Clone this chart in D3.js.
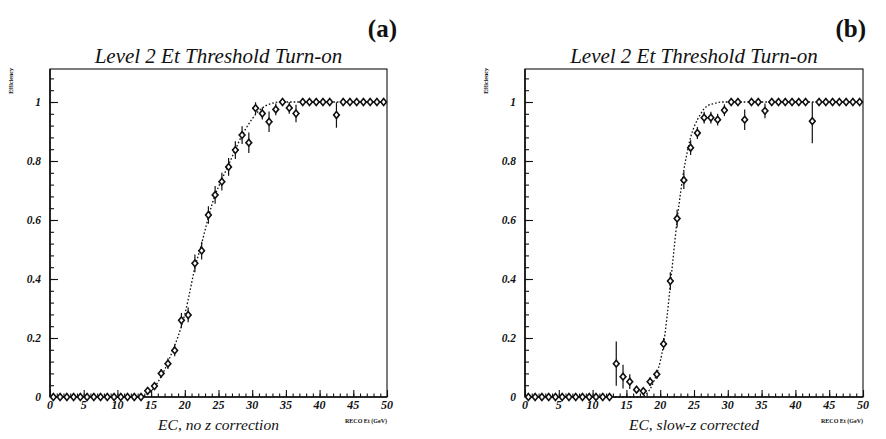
<!DOCTYPE html>
<html>
<head>
<meta charset="utf-8">
<script src="https://cdn.jsdelivr.net/npm/d3@7"></script>
<style>
  html, body { margin: 0; padding: 0; background: #fff; }
  svg { display: block; }
  text { fill: #111; }
</style>
</head>
<body>
<svg id="chart" width="886" height="439"></svg>
<script>
// ---------- data ----------
const binCenters = [0.5,1.5,2.5,3.5,4.5,5.5,6.5,7.5,8.5,9.5,10.5,11.5,12.5,13.5,14.5,15.5,16.5,17.5,18.5,19.5,
  20.5,21.5,22.5,23.5,24.5,25.5,26.5,27.5,28.5,29.5,30.5,31.5,32.5,33.5,34.5,35.5,36.5,37.5,38.5,39.5,
  40.5,41.5,42.5,43.5,44.5,45.5,46.5,47.5,48.5,49.5];

const effA = [0,0,0,0,0,0,0,0,0,0,0,0,0,0,0.021,0.037,0.08,0.113,0.158,0.26,
  0.278,0.453,0.496,0.617,0.685,0.73,0.78,0.837,0.888,0.862,0.979,0.961,0.933,0.975,1.0,0.98,0.961,1,1,1,
  1,1,0.956,1,1,1,1,1,1,1];
const errA = [0,0,0,0,0,0,0,0,0,0,0,0,0,0,0.01,0.012,0.015,0.018,0.02,0.025,
  0.025,0.03,0.03,0.03,0.03,0.03,0.03,0.03,0.03,0.035,0.02,0.02,0.035,0.02,0.01,0.02,0.03,0,0,0,
  0,0,0.043,0,0,0,0,0,0,0];

const effB = [0,0,0,0,0,0,0,0,0,0,0,0,0,0.113,0.069,0.052,0.025,0.02,0.052,0.077,
  0.18,0.393,0.605,0.735,0.845,0.895,0.947,0.947,0.94,0.972,1,1,0.94,1,1,0.97,1,1,1,1,
  1,1,0.935,1,1,1,1,1,1,1];
const errB = [0,0,0,0,0,0,0,0,0,0,0,0,0,0.075,0.04,0.025,0.012,0.01,0.015,0.015,
  0.02,0.03,0.03,0.03,0.025,0.02,0.02,0.02,0.02,0.02,0,0,0.035,0,0,0.025,0,0,0,0,
  0,0,0.075,0,0,0,0,0,0,0];

// fitted turn-on curves
const fitAx = [0,13.5,14,14.5,15,15.5,16,16.5,17,17.5,18,18.5,19,19.5,20,20.5,21,21.5,22,22.5,23,23.5,24,24.5,25,25.5,26,26.5,27,27.5,28,28.5,29,29.5,30,30.5,31,32,33,34,50];
const fitAy = [0,0,0.004,0.01,0.02,0.033,0.05,0.07,0.092,0.118,0.146,0.175,0.205,0.24,0.28,0.33,0.385,0.44,0.48,0.52,0.565,0.61,0.65,0.685,0.712,0.738,0.763,0.788,0.813,0.838,0.864,0.888,0.908,0.926,0.943,0.958,0.97,0.987,0.996,1,1];
const fitBx = [0,17.2,17.5,18,18.5,19,19.5,20,20.5,21,21.5,22,22.5,23,23.5,24,24.5,25,25.5,26,26.5,27,28,29,50];
const fitBy = [0,0,0.003,0.012,0.027,0.05,0.08,0.12,0.18,0.27,0.38,0.49,0.6,0.69,0.77,0.83,0.88,0.915,0.94,0.96,0.977,0.987,0.995,1,1];

const yTicks = [0, 0.2, 0.4, 0.6, 0.8, 1];
const yTickLabels = ["0", "0.2", "0.4", "0.6", "0.8", "1"];
const xTicks = [0, 5, 10, 15, 20, 25, 30, 35, 40, 45, 50];

const panels = [
  { tag: "(a)", title: "Level 2 Et Threshold Turn-on", sub: "EC, no z correction",
    eff: effA, err: errA, fx: fitAx, fy: fitAy, x0: 50, x1: 387, tagX: 397 },
  { tag: "(b)", title: "Level 2 Et Threshold Turn-on", sub: "EC, slow-z corrected",
    eff: effB, err: errB, fx: fitBx, fy: fitBy, x0: 525, x1: 863, tagX: 866 }
];

// ---------- drawing ----------
const svg = d3.select("#chart");
const yTop = 69, yBot = 397;
const serif = "'Liberation Serif', 'DejaVu Serif', serif";

panels.forEach(p => {
  const x = d3.scaleLinear().domain([0, 50]).range([p.x0, p.x1]);
  const y = d3.scaleLinear().domain([0, 1]).range([yBot, 102]);
  const g = svg.append("g");

  // frame
  g.append("rect").attr("x", p.x0).attr("y", yTop)
    .attr("width", p.x1 - p.x0).attr("height", yBot - yTop)
    .attr("fill", "none").attr("stroke", "#111").attr("stroke-width", 1.1);
  g.append("line").attr("x1", p.x0).attr("x2", p.x0).attr("y1", yTop).attr("y2", yBot)
    .attr("stroke", "#111").attr("stroke-width", 1.6);
  g.append("line").attr("x1", p.x0).attr("x2", p.x1).attr("y1", yBot).attr("y2", yBot)
    .attr("stroke", "#111").attr("stroke-width", 1.6);

  // y axis (ticks inward)
  const yMinor = d3.range(0, 1.11, 0.04);
  const yAx = d3.axisRight(y).tickValues(yMinor).tickSize(4).tickFormat("");
  const yg = g.append("g").attr("transform", `translate(${p.x0},0)`).call(yAx);
  const yAxMaj = d3.axisRight(y).tickValues(yTicks).tickSize(8).tickFormat("");
  const yg2 = g.append("g").attr("transform", `translate(${p.x0},0)`).call(yAxMaj);
  [yg, yg2].forEach(a => { a.select(".domain").remove(); a.selectAll("line").attr("stroke", "#111").attr("stroke-width", 1.1); });
  g.selectAll(".ylab").data(yTicks).join("text")
    .attr("x", p.x0 - 9).attr("y", d => y(d) + 4)
    .attr("text-anchor", "end")
    .attr("font-family", serif).attr("font-style", "italic").attr("font-weight", "bold")
    .attr("font-size", 11.5)
    .text((d, i) => yTickLabels[i]);

  // x axis (ticks inward)
  const xMinor = d3.range(0, 51, 1);
  const xAx = d3.axisTop(x).tickValues(xMinor).tickSize(3.5).tickFormat("");
  const xg = g.append("g").attr("transform", `translate(0,${yBot})`).call(xAx);
  const xAxMaj = d3.axisTop(x).tickValues(xTicks).tickSize(7).tickFormat("");
  const xg2 = g.append("g").attr("transform", `translate(0,${yBot})`).call(xAxMaj);
  [xg, xg2].forEach(a => { a.select(".domain").remove(); a.selectAll("line").attr("stroke", "#111").attr("stroke-width", 1.1); });
  g.selectAll(".xlab").data(xTicks).join("text")
    .attr("x", d => x(d)).attr("y", 409)
    .attr("text-anchor", "middle")
    .attr("font-family", serif).attr("font-style", "italic").attr("font-weight", "bold")
    .attr("font-size", 12)
    .text(d => d);

  // fit curve
  const line = d3.line().x((d, i) => x(p.fx[i])).y(d => y(d)).curve(d3.curveMonotoneX);
  g.append("path").datum(p.fy).attr("d", line)
    .attr("fill", "none").attr("stroke", "#111").attr("stroke-width", 1.3)
    .attr("stroke-dasharray", "1.6,2");

  // data points
  const pts = binCenters.map((c, i) => ({ c, v: p.eff[i], e: p.err[i] }));
  const pg = g.append("g");
  pg.selectAll(".hbar").data(pts).join("line")
    .attr("x1", d => x(d.c - 0.5)).attr("x2", d => x(d.c + 0.5))
    .attr("y1", d => y(d.v)).attr("y2", d => y(d.v))
    .attr("stroke", "#111").attr("stroke-width", 1.2);
  pg.selectAll(".vbar").data(pts.filter(d => d.e > 0)).join("line")
    .attr("x1", d => x(d.c)).attr("x2", d => x(d.c))
    .attr("y1", d => y(Math.min(1, d.v + d.e))).attr("y2", d => y(Math.max(0, d.v - d.e)))
    .attr("stroke", "#111").attr("stroke-width", 1.2);
  pg.selectAll(".mk").data(pts).join("path")
    .attr("transform", d => `translate(${x(d.c)},${y(d.v)})`)
    .attr("d", "M0,-3.4L2.8,0L0,3.4L-2.8,0Z")
    .attr("fill", "#fff").attr("stroke", "#111").attr("stroke-width", 1.6);

  // texts
  g.append("text").attr("x", (p.x0 + p.x1) / 2).attr("y", 63)
    .attr("text-anchor", "middle").attr("font-family", serif).attr("font-style", "italic")
    .attr("font-size", 21).text(p.title);
  g.append("text").attr("x", p.tagX).attr("y", 37)
    .attr("text-anchor", "end").attr("font-family", serif).attr("font-weight", "bold")
    .attr("font-size", 25).text(p.tag);
  g.append("text").attr("x", (p.x0 + p.x1) / 2).attr("y", 430)
    .attr("text-anchor", "middle").attr("font-family", serif).attr("font-style", "italic")
    .attr("font-size", 15.5).text(p.sub);
  g.append("text").attr("x", p.x1).attr("y", 423)
    .attr("text-anchor", "end").attr("font-family", serif).attr("font-weight", "bold")
    .attr("font-size", 6).text("RECO Et (GeV)");
  g.append("text").attr("transform", `translate(${p.x0 - 37},68) rotate(-90)`)
    .attr("text-anchor", "end").attr("font-family", serif).attr("font-weight", "bold")
    .attr("font-size", 6).text("Efficiency");
});
</script>
</body>
</html>
